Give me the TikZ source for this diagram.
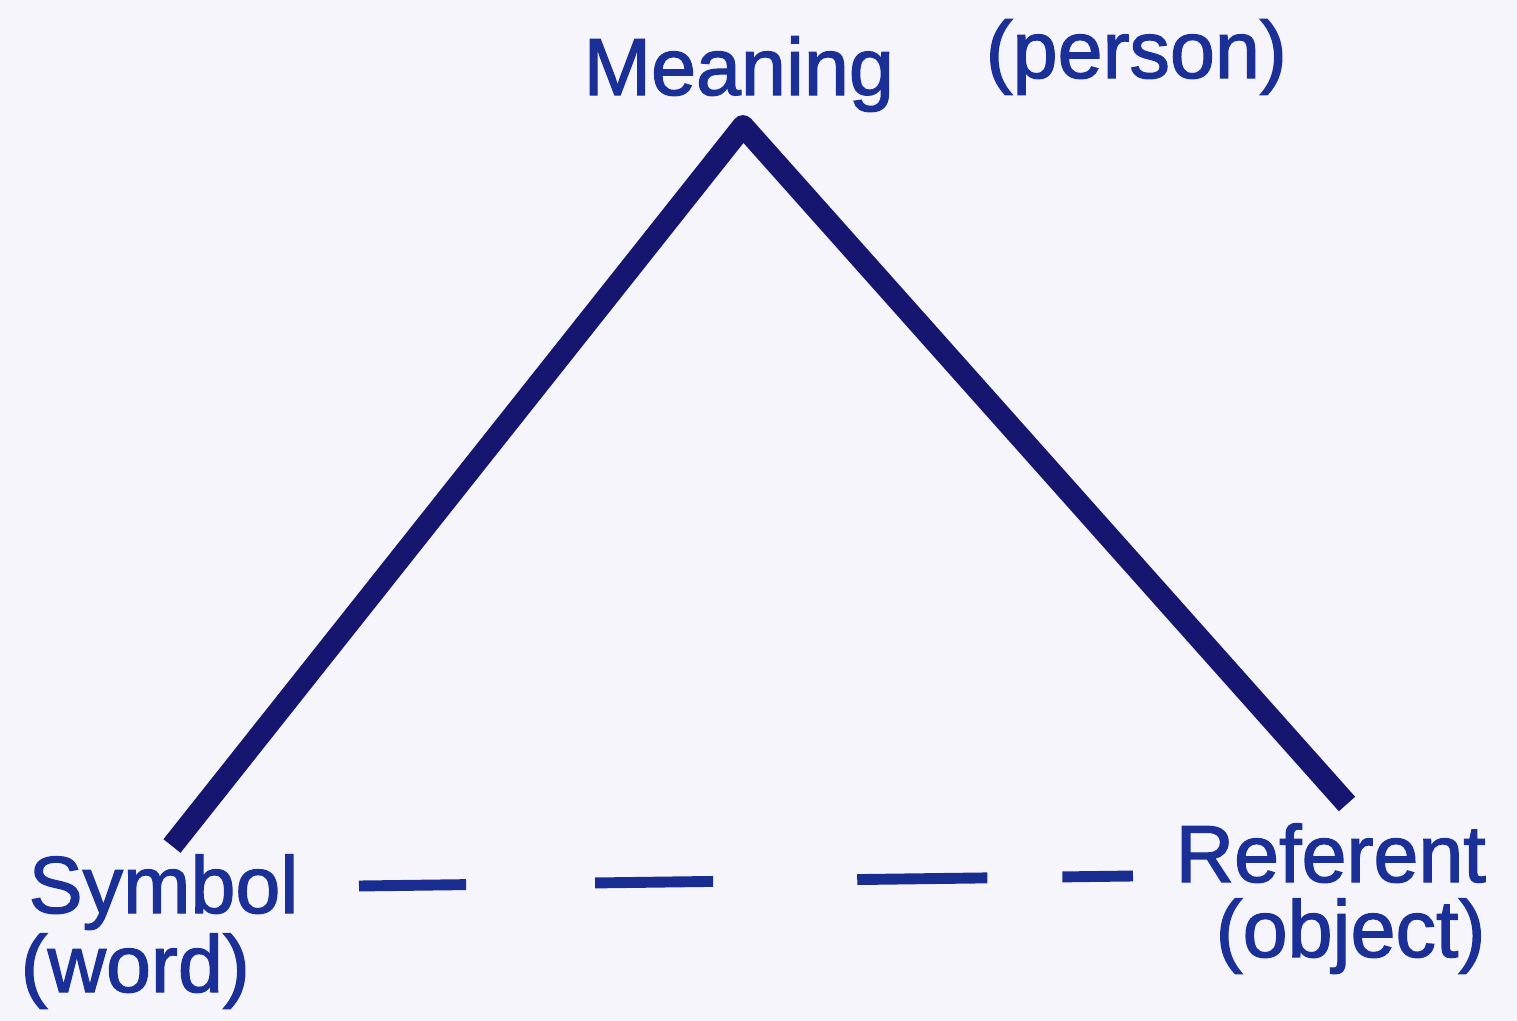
\documentclass[tikz,border=0pt]{standalone}
\usepackage{fontspec}
\setmainfont{Liberation Sans}
\newfontfamily\labfont[FakeBold=1.6]{Liberation Sans}
\usepackage{xcolor}
\definecolor{paper}{RGB}{246,245,251}
\definecolor{trink}{RGB}{22,22,112}
\definecolor{labink}{RGB}{26,48,150}

\begin{document}
\begin{tikzpicture}[x=0.01cm,y=-0.01cm,
  lbl/.style={anchor=base west,inner sep=0pt,text=labink,
    font=\labfont\fontsize{23pt}{28pt}\selectfont},
  tri/.style={draw=trink,line width=6.2pt,line join=round},
  dashseg/.style={draw=labink!85!trink,line width=3.1pt,
    dash pattern=on 1.07cm off 1.29cm on 1.18cm off 1.44cm on 1.30cm off 0.75cm on 0.71cm off 1cm}]

% paper
\fill[paper] (0,0) rectangle (1517,1021);
\useasboundingbox (0,0) rectangle (1517,1021);

% corner labels
\node[lbl] (mean) at (583,95) {Meaning};
\node[lbl] (pers) at (985,78) {(person)};
\node[lbl] (sym) at (28,913) {Symbol};
\node[lbl] (word) at (20,992) {(word)};
\node[lbl] (ref) at (1175,882) {Referent};
\node[lbl] (obj) at (1215,957) {(object)};

% triangle ends
\coordinate (apex) at (743,126);
\coordinate (symend) at (172,846);
\coordinate (refend) at (1347,804);

% the two solid sides
\draw[tri] (symend) -- (apex) -- (refend);

% dashed base between symbol and referent
\coordinate (d0) at (359,886);
\coordinate (d1) at (1133,876);
\draw[dashseg] (d0) -- (d1);

\end{tikzpicture}
\end{document}
